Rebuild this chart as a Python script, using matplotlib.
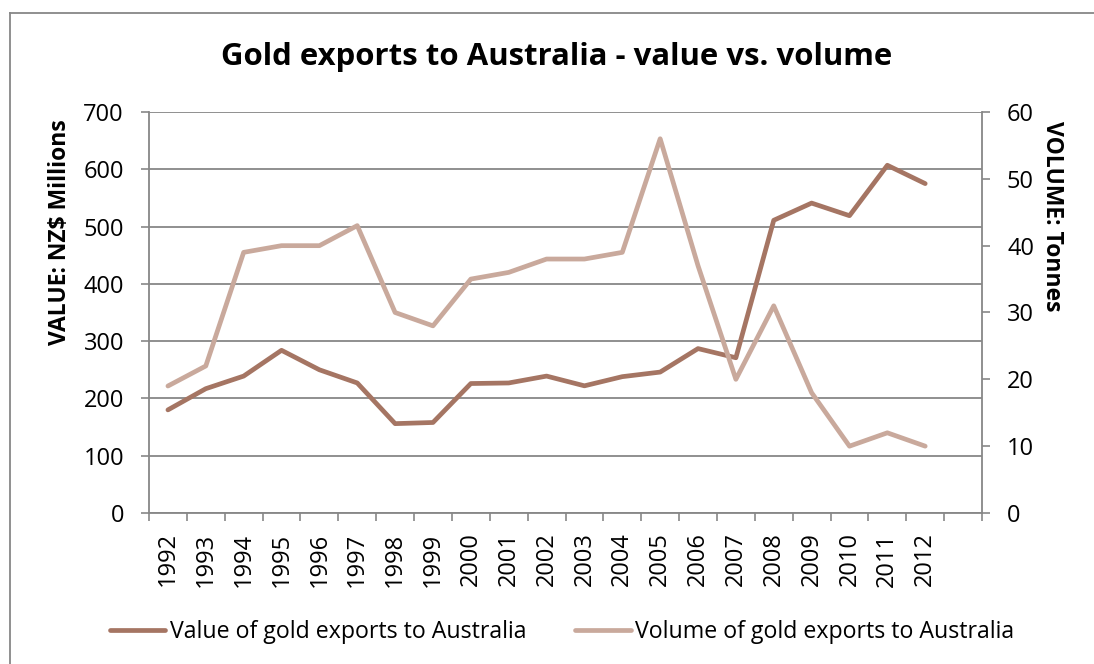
import matplotlib
matplotlib.use("Agg")
import matplotlib.pyplot as plt
from matplotlib.lines import Line2D

plt.rcParams['font.family'] = ['Open Sans', 'DejaVu Sans']

anos = [str(a) for a in range(1992, 2013)]
valor = [180, 217, 239, 284, 250, 227, 156, 158, 226, 227, 239,
         222, 238, 246, 287, 271, 511, 541, 519, 607, 575]
volume = [19, 22, 39, 40, 40, 43, 30, 28, 35, 36, 38,
          38, 39, 56, 37, 20, 31, 18, 10, 12, 10]

cor_valor = '#A57563'
cor_volume = '#C9A99C'
cinza = '#878787'

fig = plt.figure(figsize=(10.94, 6.64), dpi=100)
ax = fig.add_axes([149 / 1094, 1 - 513 / 664, (982 - 149) / 1094, (513 - 112) / 664])
ax2 = ax.twinx()

x = list(range(len(anos)))
ax.plot(x, valor, color=cor_valor, lw=3.4, solid_capstyle='round', zorder=3)
ax2.plot(x, volume, color=cor_volume, lw=3.4, solid_capstyle='round', zorder=3)

# eixo de categorias com uma posição vazia no fim
ax.set_xlim(-0.5, len(anos) + 0.5)
ax.set_xticks(x)
ax.set_xticklabels(anos, rotation=90, fontsize=17)
ax.set_xticks([i - 0.5 for i in range(len(anos) + 2)], minor=True)
ax.tick_params(axis='x', which='major', length=0, pad=14)
ax.tick_params(axis='x', which='minor', length=6, width=1.2, color=cinza, direction='out')

ax.set_ylim(0, 700)
ax.set_yticks(range(0, 701, 100))
ax2.set_ylim(0, 60)
ax2.set_yticks(range(0, 61, 10))
for a in (ax, ax2):
    a.tick_params(axis='y', length=6, width=1.2, color=cinza, labelsize=17, pad=12)
    for s in a.spines.values():
        s.set_visible(False)

ax.grid(axis='y', color=cinza, lw=1.3)
ax.set_axisbelow(True)
for lado in ('left', 'bottom'):
    ax.spines[lado].set_visible(True)
    ax.spines[lado].set_color(cinza)
    ax.spines[lado].set_linewidth(1.3)
ax2.spines['right'].set_visible(True)
ax2.spines['right'].set_color(cinza)
ax2.spines['right'].set_linewidth(1.3)

ax.set_ylabel('VALUE: NZ$ Millions', fontsize=16.5, fontweight='bold', va='center')
ax.yaxis.set_label_coords(-0.107, 0.70)
ax2.set_ylabel('VOLUME: Tonnes', fontsize=16.5, fontweight='bold', rotation=-90, va='center')
ax2.yaxis.set_label_coords(1.084, 0.74)

fig.text(557 / 1094, 1 - 57 / 664, 'Gold exports to Australia - value vs. volume',
         ha='center', va='center', fontsize=22.4, fontweight='bold')

# legenda embaixo
handles = [Line2D([], [], color=cor_valor, lw=3.4, solid_capstyle='round'),
           Line2D([], [], color=cor_volume, lw=3.4, solid_capstyle='round')]
fig.legend(handles, ['Value of gold exports to Australia', 'Volume of gold exports to Australia'],
           loc='center', bbox_to_anchor=(562 / 1094, 1 - 632 / 664), ncol=2, frameon=False,
           fontsize=16.7, handlelength=2.4, handletextpad=0.2, columnspacing=2.1)

# moldura da área do gráfico
fig.add_artist(Line2D([10 / 1094, 10 / 1094], [0, 1 - 13 / 664], color=cinza, lw=1.3,
                      transform=fig.transFigure))
fig.add_artist(Line2D([10 / 1094, 1], [1 - 13 / 664, 1 - 13 / 664], color=cinza, lw=1.3,
                      transform=fig.transFigure))

fig.savefig('out.png', dpi=100)
